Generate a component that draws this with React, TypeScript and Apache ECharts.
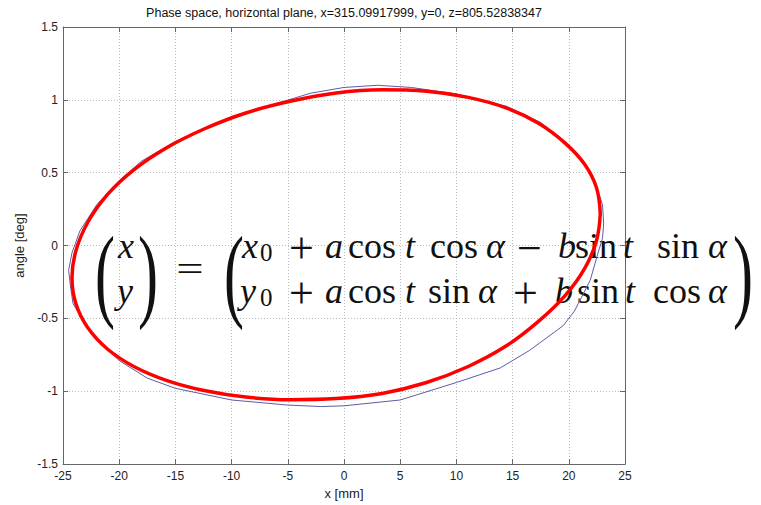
import React, { useEffect, useRef } from "react";
import * as echarts from "echarts";

const TITLE = "Phase space, horizontal plane, x=315.09917999, y=0, z=805.52838347";
const X_NAME = "x [mm]";
const Y_NAME = "angle [deg]";

const X_MIN = -25;
const X_MAX = 25;
const X_STEP = 5;
const Y_MIN = -1.5;
const Y_MAX = 1.5;
const Y_STEP = 0.5;

// Tracked particle positions in the horizontal phase space (closed loop)
const trackX = [
  23.1, 23.0, 22.4, 21.4, 19.8, 17.5, 14.5, 10.0, 6.0, 3.0, 0.0, -3.0, -6.0, -10.0, -15.0, -18.0,
  -20.0, -22.0, -23.5, -24.2, -24.5, -24.3, -24.1, -23.3, -22.3, -20.0, -17.5, -15.0, -10.0, -5.0,
  -2.0, 0.0, 5.0, 10.0, 13.9, 16.5, 19.5, 20.5, 21.9, 22.6, 23.0, 23.1,
];
const trackY = [
  0.15, 0.28, 0.42, 0.57, 0.7, 0.845, 0.955, 1.04, 1.085, 1.1, 1.085, 1.045, 0.975, 0.885, 0.715,
  0.58, 0.445, 0.28, 0.1, -0.05, -0.17, -0.3, -0.4, -0.5, -0.62, -0.79, -0.91, -0.98, -1.06,
  -1.095, -1.105, -1.1, -1.06, -0.94, -0.84, -0.72, -0.55, -0.45, -0.24, -0.05, 0.05, 0.15,
];

// Fitted ellipse, sampled around the contour (closed loop)
const fitX = [
  22.8, 22.45, 21.39, 19.65, 17.3, 14.41, 11.05, 7.34, 3.39, -0.7, -4.79, -8.74, -12.45, -15.81,
  -18.7, -21.05, -22.79, -23.85, -24.2, -23.85, -22.79, -21.05, -18.7, -15.81, -12.45, -8.74,
  -4.79, -0.7, 3.39, 7.34, 11.05, 14.41, 17.3, 19.65, 21.39, 22.45, 22.8,
];
const fitY = [
  0.22, 0.4, 0.56, 0.705, 0.84, 0.945, 1.017, 1.059, 1.069, 1.047, 0.99, 0.91, 0.8, 0.67, 0.52,
  0.35, 0.16, -0.035, -0.22, -0.4, -0.565, -0.71, -0.83, -0.925, -0.995, -1.04, -1.058, -1.05,
  -1.015, -0.94, -0.83, -0.69, -0.52, -0.345, -0.16, 0.03, 0.22,
];

type Tok = { t: string; k: "i" | "r" | "s" | "o"; x: number };

// Parametric ellipse equation shown over the plot
const ROW1: Tok[] = [
  { t: "x", k: "i", x: 242 }, { t: "0", k: "s", x: 260 }, { t: "+", k: "o", x: 289 },
  { t: "a", k: "i", x: 325 }, { t: "cos", k: "r", x: 348 }, { t: "t", k: "i", x: 405 },
  { t: "cos", k: "r", x: 430 }, { t: "α", k: "i", x: 486 }, { t: "−", k: "o", x: 517 },
  { t: "b", k: "i", x: 558 }, { t: "sin", k: "r", x: 575 }, { t: "t", k: "i", x: 623 },
  { t: "sin", k: "r", x: 657 }, { t: "α", k: "i", x: 708 },
];
const ROW2: Tok[] = [
  { t: "y", k: "i", x: 240 }, { t: "0", k: "s", x: 260 }, { t: "+", k: "o", x: 289 },
  { t: "a", k: "i", x: 325 }, { t: "cos", k: "r", x: 348 }, { t: "t", k: "i", x: 405 },
  { t: "sin", k: "r", x: 428 }, { t: "α", k: "i", x: 478 }, { t: "+", k: "o", x: 513 },
  { t: "b", k: "i", x: 555 }, { t: "sin", k: "r", x: 577 }, { t: "t", k: "i", x: 625 },
  { t: "cos", k: "r", x: 653 }, { t: "α", k: "i", x: 708 },
];

const SERIF = '"Liberation Serif", "DejaVu Serif", serif';
const SANS = '"Liberation Sans Narrow", "Liberation Sans", Arial, sans-serif';
const EQ_SIZE = 36;
const SUB_SIZE = 25;
const OP_SIZE = 44;
const CENTRAL = 0.3375;
const INK = "#111";

function glyph(text: string, x: number, y: number, size: number, italic: boolean, extra: any = {}) {
  return {
    type: "text",
    x,
    y,
    z: 1,
    ...extra,
    style: {
      text,
      fontFamily: SERIF,
      fontSize: size,
      fontStyle: italic ? "italic" : "normal",
      fill: INK,
      align: extra.align || "left",
      verticalAlign: "middle",
    },
  };
}

function tokenEls(row: Tok[], baseline: number) {
  return row.map((tok) => {
    if (tok.k === "s") return glyph(tok.t, tok.x, baseline + 3 - CENTRAL * SUB_SIZE, SUB_SIZE, false);
    // operators sit on the math axis, about 6px above the baseline
    if (tok.k === "o") return glyph(tok.t, tok.x, baseline - 6 - 0.0875 * OP_SIZE, OP_SIZE, false);
    return glyph(tok.t, tok.x, baseline - CENTRAL * EQ_SIZE, EQ_SIZE, tok.k === "i");
  });
}

function paren(ch: string, x: number) {
  return glyph(ch, x, 272, 40, false, { scaleX: 1.5, scaleY: 2.6, align: "center" });
}

export default function App() {
  const ref = useRef<HTMLDivElement>(null);

  useEffect(() => {
    document.body.style.margin = "0";
    if (!ref.current) return;
    const chart = echarts.init(ref.current, undefined, { renderer: "svg" });

    const track = trackX.map((x, i) => [x, trackY[i]]);
    const fit = fitX.map((x, i) => [x, fitY[i]]);

    const axisLine = { show: true, onZero: false, lineStyle: { color: "#666", width: 1 } };
    const tick = { show: true, inside: true, length: 5, lineStyle: { color: "#666" } };
    const split = { show: true, lineStyle: { color: "#bbb", type: [1, 2] as any, width: 1 } };
    const label = { color: "#222", fontFamily: SANS, fontSize: 12 };
    const nameStyle = { color: "#222", fontFamily: SANS, fontSize: 13 };

    chart.setOption({
      animation: false,
      backgroundColor: "#fff",
      grid: { left: 63, right: 136, top: 27, bottom: 35, containLabel: false },
      xAxis: [
        {
          type: "value",
          min: X_MIN,
          max: X_MAX,
          interval: X_STEP,
          position: "bottom",
          name: X_NAME,
          nameLocation: "middle",
          nameGap: 21,
          nameTextStyle: nameStyle,
          axisLine,
          axisTick: tick,
          splitLine: split,
          axisLabel: { ...label, margin: 6 },
        },
        {
          type: "value",
          min: X_MIN,
          max: X_MAX,
          interval: X_STEP,
          position: "top",
          axisLine,
          axisTick: tick,
          splitLine: { show: false },
          axisLabel: { show: false },
        },
      ],
      yAxis: [
        {
          type: "value",
          min: Y_MIN,
          max: Y_MAX,
          interval: Y_STEP,
          position: "left",
          name: Y_NAME,
          nameLocation: "middle",
          nameGap: 24,
          nameTextStyle: nameStyle,
          axisLine,
          axisTick: tick,
          splitLine: split,
          axisLabel: { ...label, margin: 5 },
        },
        {
          type: "value",
          min: Y_MIN,
          max: Y_MAX,
          interval: Y_STEP,
          position: "right",
          axisLine,
          axisTick: tick,
          splitLine: { show: false },
          axisLabel: { show: false },
        },
      ],
      series: [
        {
          type: "line",
          data: track,
          showSymbol: false,
          lineStyle: { color: "#5c5ca6", width: 1 },
          z: 3,
        },
        {
          type: "line",
          data: fit,
          smooth: 0.4,
          showSymbol: false,
          lineStyle: { color: "#ff0000", width: 3.5 },
          z: 4,
        },
      ],
      graphic: [
        {
          type: "text",
          x: 344,
          y: 13,
          style: {
            text: TITLE,
            fontFamily: SANS,
            fontSize: 12.5,
            fill: "#111",
            align: "center",
            verticalAlign: "middle",
          },
        },
        paren("(", 105),
        glyph("x", 118, 258 - CENTRAL * EQ_SIZE, EQ_SIZE, true),
        glyph("y", 117, 303 - CENTRAL * EQ_SIZE, EQ_SIZE, true),
        paren(")", 148),
        glyph("=", 190, 269, EQ_SIZE, false, { scaleX: 1.35, align: "center" }),
        paren("(", 234),
        ...tokenEls(ROW1, 258),
        ...tokenEls(ROW2, 303),
        paren(")", 743),
      ],
    });

    return () => chart.dispose();
  }, []);

  return <div ref={ref} style={{ width: 761, height: 505 }} />;
}
